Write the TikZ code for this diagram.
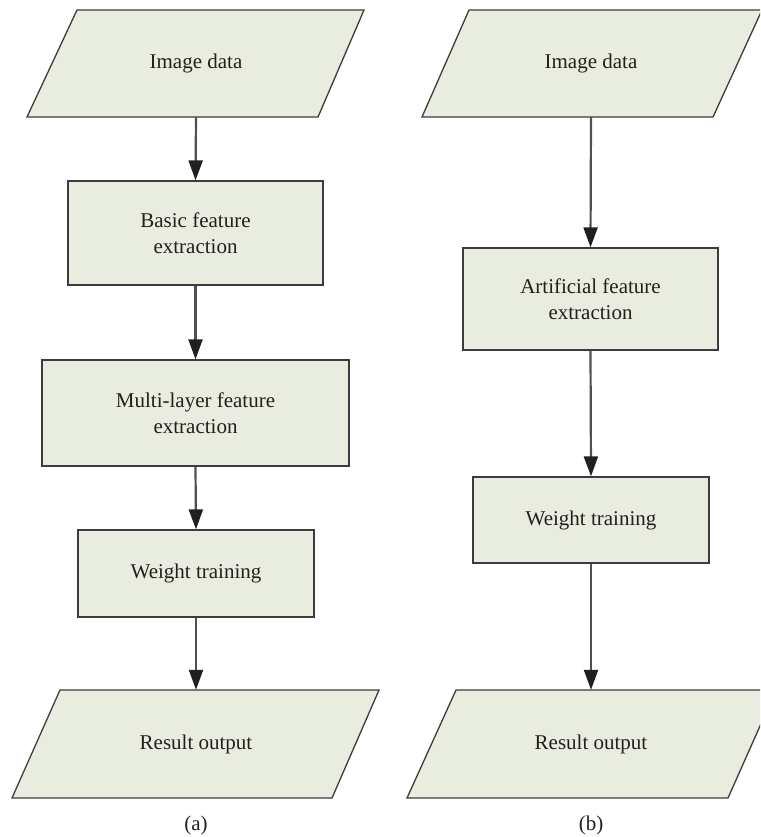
\documentclass[tikz,border=0pt]{standalone}
\usepackage{fontspec}
\setmainfont{Liberation Serif}
\usetikzlibrary{arrows.meta}
\definecolor{boxfill}{RGB}{233,237,223}
\definecolor{boxline}{RGB}{60,60,60}
\definecolor{arrline}{RGB}{80,80,80}
\definecolor{tipcol}{RGB}{35,31,32}
\definecolor{txt}{RGB}{35,31,32}
\tikzset{
  flowbox/.style={draw=boxline, fill=boxfill, line width=1.3pt, inner sep=0pt,
    align=center, text=txt, font=\fontsize{21}{26}\selectfont},
  iolabel/.style={inner sep=0pt, minimum width=0pt, align=center, text=txt,
    font=\fontsize{21}{26}\selectfont},
  iopara/.style={draw=boxline, fill=boxfill, line width=1.3pt},
  flowarrow/.style={draw=arrline, line width=2.2pt,
    -{Triangle[width=14pt,length=20pt,color=tipcol]}},
  caption/.style={text=txt, font=\fontsize{21}{24}\selectfont}
}
\begin{document}
\begin{tikzpicture}[x=1pt,y=-1pt]
\useasboundingbox (0,0) rectangle (760,837);
\clip (0,0) rectangle (760,837);
\fill[white] (0,0) rectangle (760,837);

% ---- column (a) ----
\draw[iopara] (77,10) -- (364,10) -- (318,117) -- (27,117) -- cycle;
\node[iolabel, minimum height=107pt] (a1) at (196,63.5) {Image data};
\node[flowbox, minimum width=255pt, minimum height=104pt] (a2) at (195.5,233) {Basic feature\\extraction};
\node[flowbox, minimum width=307pt, minimum height=106pt] (a3) at (195.5,413) {Multi-layer feature\\extraction};
\node[flowbox, minimum width=236pt, minimum height=87pt] (a4) at (196,573.5) {Weight training};
\draw[iopara] (60,690) -- (379,690) -- (332,798) -- (12,798) -- cycle;
\node[iolabel, minimum height=108pt] (a5) at (196,744) {Result output};
\node[caption] (ca) at (196,825) {(a)};

\draw[flowarrow] (a1.south) -- (a2.north);
\draw[flowarrow] (a2.south) -- (a3.north);
\draw[flowarrow] (a3.south) -- (a4.north);
\draw[flowarrow] (a4.south) -- (a5.north);

% ---- column (b) ----
\draw[iopara] (469,10) -- (762,10) -- (713,117) -- (422,117) -- cycle;
\node[iolabel, minimum height=107pt] (b1) at (591,63.5) {Image data};
\node[flowbox, minimum width=255pt, minimum height=102pt] (b2) at (590.5,299) {Artificial feature\\extraction};
\node[flowbox, minimum width=236pt, minimum height=86pt] (b3) at (591,520) {Weight training};
\draw[iopara] (456,690) -- (776,690) -- (728,798) -- (407,798) -- cycle;
\node[iolabel, minimum height=108pt] (b4) at (591,744) {Result output};
\node[caption] (cb) at (591,825) {(b)};

\draw[flowarrow] (b1.south) -- (b2.north);
\draw[flowarrow] (b2.south) -- (b3.north);
\draw[flowarrow] (b3.south) -- (b4.north);
\end{tikzpicture}
\end{document}
